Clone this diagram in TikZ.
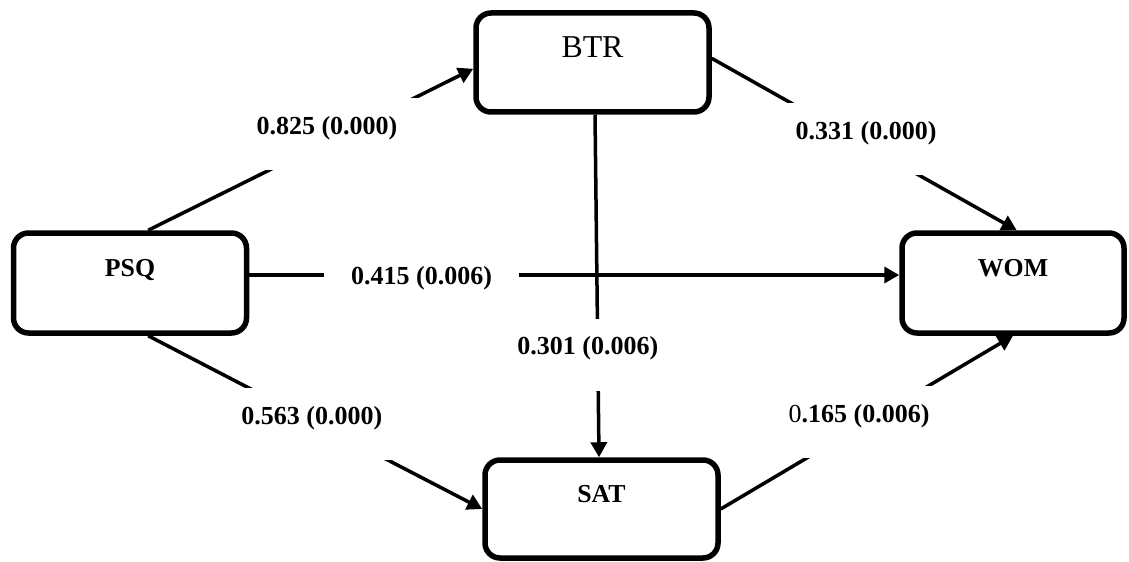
\documentclass[tikz,border=0pt]{standalone}
\usepackage{fontspec}
\setmainfont{Liberation Serif}
\usetikzlibrary{arrows.meta}

\begin{document}
\begin{tikzpicture}[>={Triangle[length=0.3cm,width=0.32cm]},
		box/.style={draw, line width=0.11cm, rounded corners=0.3cm, minimum width=4.66cm, minimum height=2cm, text height=0.4cm, text depth=0.68cm, font=\fontsize{14.7}{17}\selectfont\bfseries},
		coef/.style={fill=white, minimum width=3.9cm, inner xsep=0.1cm, inner ysep=0pt, text height=0.72cm, text depth=0.72cm, font=\fontsize{14.8}{17}\selectfont\bfseries},
		conn/.style={line width=0.07cm}]
			\useasboundingbox (0,0) rectangle (22.58,11.22);
			\node[box, font=\fontsize{18.1}{21}\selectfont, text depth=0.59cm, minimum height=1.98cm] (BTR) at (11.85,9.97) {BTR};
			\node[box] (PSQ) at (2.6,5.56) {PSQ};
			\node[box, minimum width=4.44cm] (WOM) at (20.26,5.56) {WOM};
			\node[box, minimum height=1.96cm] (SAT) at (12.03,1.04) {SAT};
			\draw[->, conn] (PSQ.71) -- node[coef, pos=0.55, yshift=0.14cm]{0.825 (0.000)} (BTR.183);
			\draw[->, conn] ([yshift=0.16cm]PSQ.east) -- node[coef, pos=0.265, yshift=-0.18cm]{0.415 (0.006)} ([yshift=0.16cm]WOM.west);
			\draw[->, conn] (PSQ.-71) -- node[coef, pos=0.49, yshift=-0.07cm]{0.563 (0.000)} (SAT.west);
			\draw[->, conn] (BTR.2) -- node[coef, pos=0.506, yshift=0.12cm]{0.331 (0.000)} (WOM.86);
			\draw[->, conn] ([xshift=0.05cm]BTR.south) -- node[coef, pos=0.7, xshift=-0.2cm]{0.301 (0.006)} ([xshift=-0.05cm]SAT.north);
			\draw[->, conn] (SAT.east) -- node[coef, pos=0.473, yshift=0.1cm]{{\mdseries 0}.165 (0.006)} (WOM.south);
		\end{tikzpicture}
\end{document}
